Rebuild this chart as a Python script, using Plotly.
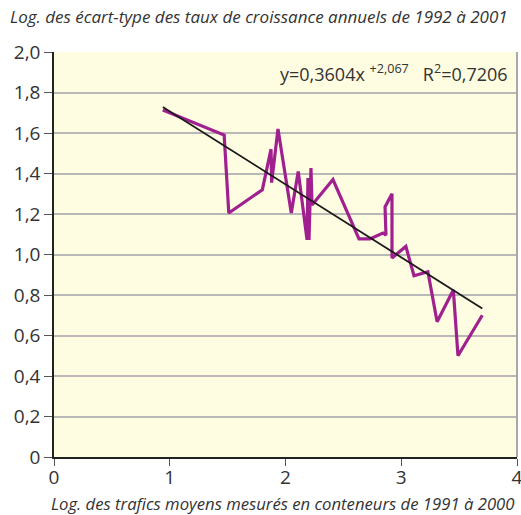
import plotly.graph_objects as go

# Data
x_vals = [0.94, 1.47, 1.51, 1.80, 1.875, 1.88, 1.935, 2.05, 2.11, 2.186, 2.194,
          2.203, 2.22, 2.229, 2.41, 2.635, 2.73, 2.842, 2.868, 2.86, 2.92, 2.92,
          3.04, 3.11, 3.23, 3.31, 3.45, 3.49, 3.70]
y_vals = [1.714, 1.59, 1.205, 1.32, 1.52, 1.355, 1.62, 1.205, 1.41, 1.072, 1.378,
          1.072, 1.427, 1.244, 1.37, 1.077, 1.077, 1.106, 1.096, 1.235, 1.30, 0.983,
          1.04, 0.895, 0.915, 0.668, 0.825, 0.50, 0.70]

slope = -0.3604
intercept = 2.067
trend_x = [0.94, 3.70]
trend_y = [intercept + slope * v for v in trend_x]

y_tickvals = [0, 0.2, 0.4, 0.6, 0.8, 1.0, 1.2, 1.4, 1.6, 1.8, 2.0]
y_ticktext = ["0", "0,2", "0,4", "0,6", "0,8", "1,0", "1,2", "1,4", "1,6", "1,8", "2,0"]
x_tickvals = [0, 1, 2, 3, 4]
x_ticktext = ["0", "1", "2", "3", "4"]

font_family = "Open Sans, DejaVu Sans, sans-serif"
text_color = "#333333"

fig = go.Figure()
fig.add_trace(go.Scatter(x=x_vals, y=y_vals, mode="lines",
                         line=dict(color="#A0208F", width=3.2),
                         showlegend=False, hoverinfo="skip"))
fig.add_trace(go.Scatter(x=trend_x, y=trend_y, mode="lines",
                         line=dict(color="#1a1a1a", width=1.8),
                         showlegend=False, hoverinfo="skip"))

fig.update_layout(
    width=521, height=515,
    margin=dict(l=54, r=4, t=52, b=58),
    paper_bgcolor="white",
    plot_bgcolor="#FFFDE1",
    font=dict(family=font_family, color=text_color, size=18),
    xaxis=dict(range=[0, 4], tickvals=x_tickvals, ticktext=x_ticktext,
               showgrid=False, zeroline=False, showline=True,
               linecolor="#222222", linewidth=1.5, ticks="outside",
               ticklen=7, tickcolor="#555555", tickfont=dict(size=19),
               ticklabelstandoff=-5, ticklabeloverflow="allow",
               automargin=False, mirror=False),
    yaxis=dict(range=[0, 2], tickvals=y_tickvals, ticktext=y_ticktext,
               showgrid=True, gridcolor="#B8B8B8", gridwidth=1.5,
               zeroline=False, showline=True, linecolor="#222222",
               linewidth=1.5, ticks="outside", ticklen=8, tickcolor="#555555",
               tickfont=dict(size=19), automargin=False),
    shapes=[dict(type="line", xref="paper", yref="paper", x0=1, x1=1, y0=0, y1=1,
                 line=dict(color="#A8A8A8", width=2))],
    annotations=[
        dict(text="<i>Log. des écart-type des taux de croissance annuels de 1992 à 2001</i>",
             xref="paper", yref="paper", x=-0.1, y=1.0, yshift=22,
             xanchor="left", yanchor="bottom", showarrow=False,
             font=dict(size=17, color=text_color)),
        dict(text="<i>Log. des trafics moyens mesurés en conteneurs de 1991 à 2000</i>",
             xref="paper", yref="paper", x=1.0, y=0, yshift=-33,
             xanchor="right", yanchor="top", showarrow=False,
             font=dict(size=16.7, color=text_color)),
        dict(text="y=0,3604x <sup>+2,067</sup>   R<sup>2</sup>=0,7206",
             xref="paper", yref="paper", x=0.985, y=0.985,
             xanchor="right", yanchor="top", showarrow=False,
             font=dict(size=18, color=text_color)),
    ],
)

fig.write_html("out.html", config={"displayModeBar": False},
               post_script="document.body.style.margin='0';")
